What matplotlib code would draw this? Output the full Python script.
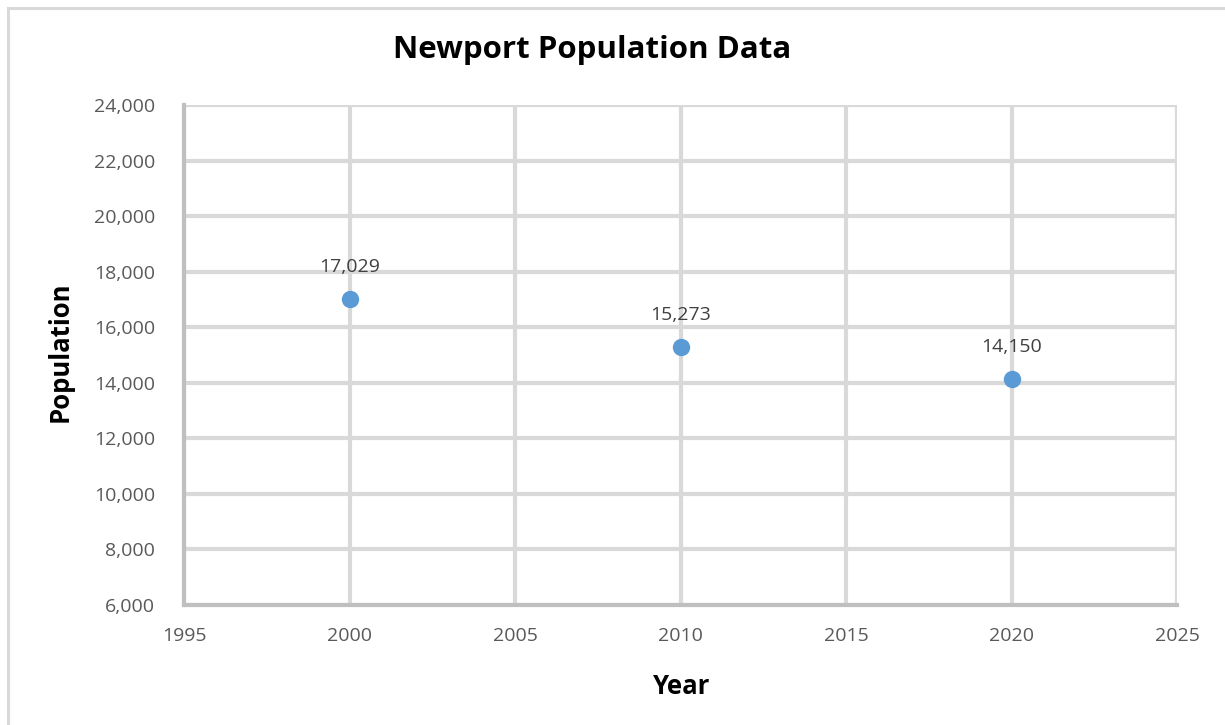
import matplotlib
matplotlib.use("Agg")
import matplotlib.pyplot as plt
from matplotlib.ticker import FuncFormatter
from matplotlib.lines import Line2D

years = [2000, 2010, 2020]
population = [17029, 15273, 14150]

x_ticks = [1995, 2000, 2005, 2010, 2015, 2020, 2025]
y_ticks = [6000, 8000, 10000, 12000, 14000, 16000, 18000, 20000, 22000, 24000]

plt.rcParams["font.family"] = ["Open Sans", "DejaVu Sans"]

W, H = 1225, 725
fig = plt.figure(figsize=(W / 100, H / 100), dpi=100)
fig.patch.set_facecolor("white")

# outer chart frame (top and left edges visible)
frame_c = "#d9d9d9"
fig.add_artist(Line2D([7.5 / W, 1.0], [1 - 7.5 / H, 1 - 7.5 / H], color=frame_c, lw=2.2,
                      transform=fig.transFigure))
fig.add_artist(Line2D([7.5 / W, 7.5 / W], [0.0, 1 - 7.5 / H], color=frame_c, lw=2.2,
                      transform=fig.transFigure))

ax = fig.add_axes([184 / W, 1 - 605 / H, (1177 - 184) / W, (605 - 105) / H])
ax.set_xlim(1995, 2025)
ax.set_ylim(6000, 24000)
ax.set_xticks(x_ticks)
ax.set_yticks(y_ticks)
ax.yaxis.set_major_formatter(FuncFormatter(lambda v, p: f"{int(v):,}"))

grid_c = "#d9d9d9"
ax.grid(True, color=grid_c, lw=3.0, zorder=0)
ax.set_axisbelow(True)
for s in ("top", "right"):
    ax.spines[s].set_visible(False)
for s in ("left", "bottom"):
    ax.spines[s].set_color("#bfbfbf")
    ax.spines[s].set_linewidth(3.0)
    ax.spines[s].set_zorder(1)

ax.tick_params(axis="both", length=0, labelsize=14, labelcolor="#595959")
ax.tick_params(axis="x", pad=16)
ax.tick_params(axis="y", pad=21)

ax.plot(years, population, linestyle="none", marker="o", markersize=11.5,
        color="#5b9bd5", zorder=3, clip_on=False)
for x, y in zip(years, population):
    ax.annotate(f"{y:,}", (x, y), xytext=(0, 23), textcoords="offset points",
                ha="center", va="center", fontsize=14, color="#404040")

fig.text(592 / W, 1 - 50 / H, "Newport Population Data", ha="center", va="center",
         fontsize=22.5, fontweight="bold", color="black")
fig.text(682 / W, 1 - 686 / H, "Year", ha="center", va="center",
         fontsize=18.5, fontweight="bold", color="black")
fig.text(60 / W, 1 - 352 / H, "Population", ha="center", va="center", rotation=90,
         fontsize=18.5, fontweight="bold", color="black")

fig.savefig("out.png", dpi=100, facecolor="white")
